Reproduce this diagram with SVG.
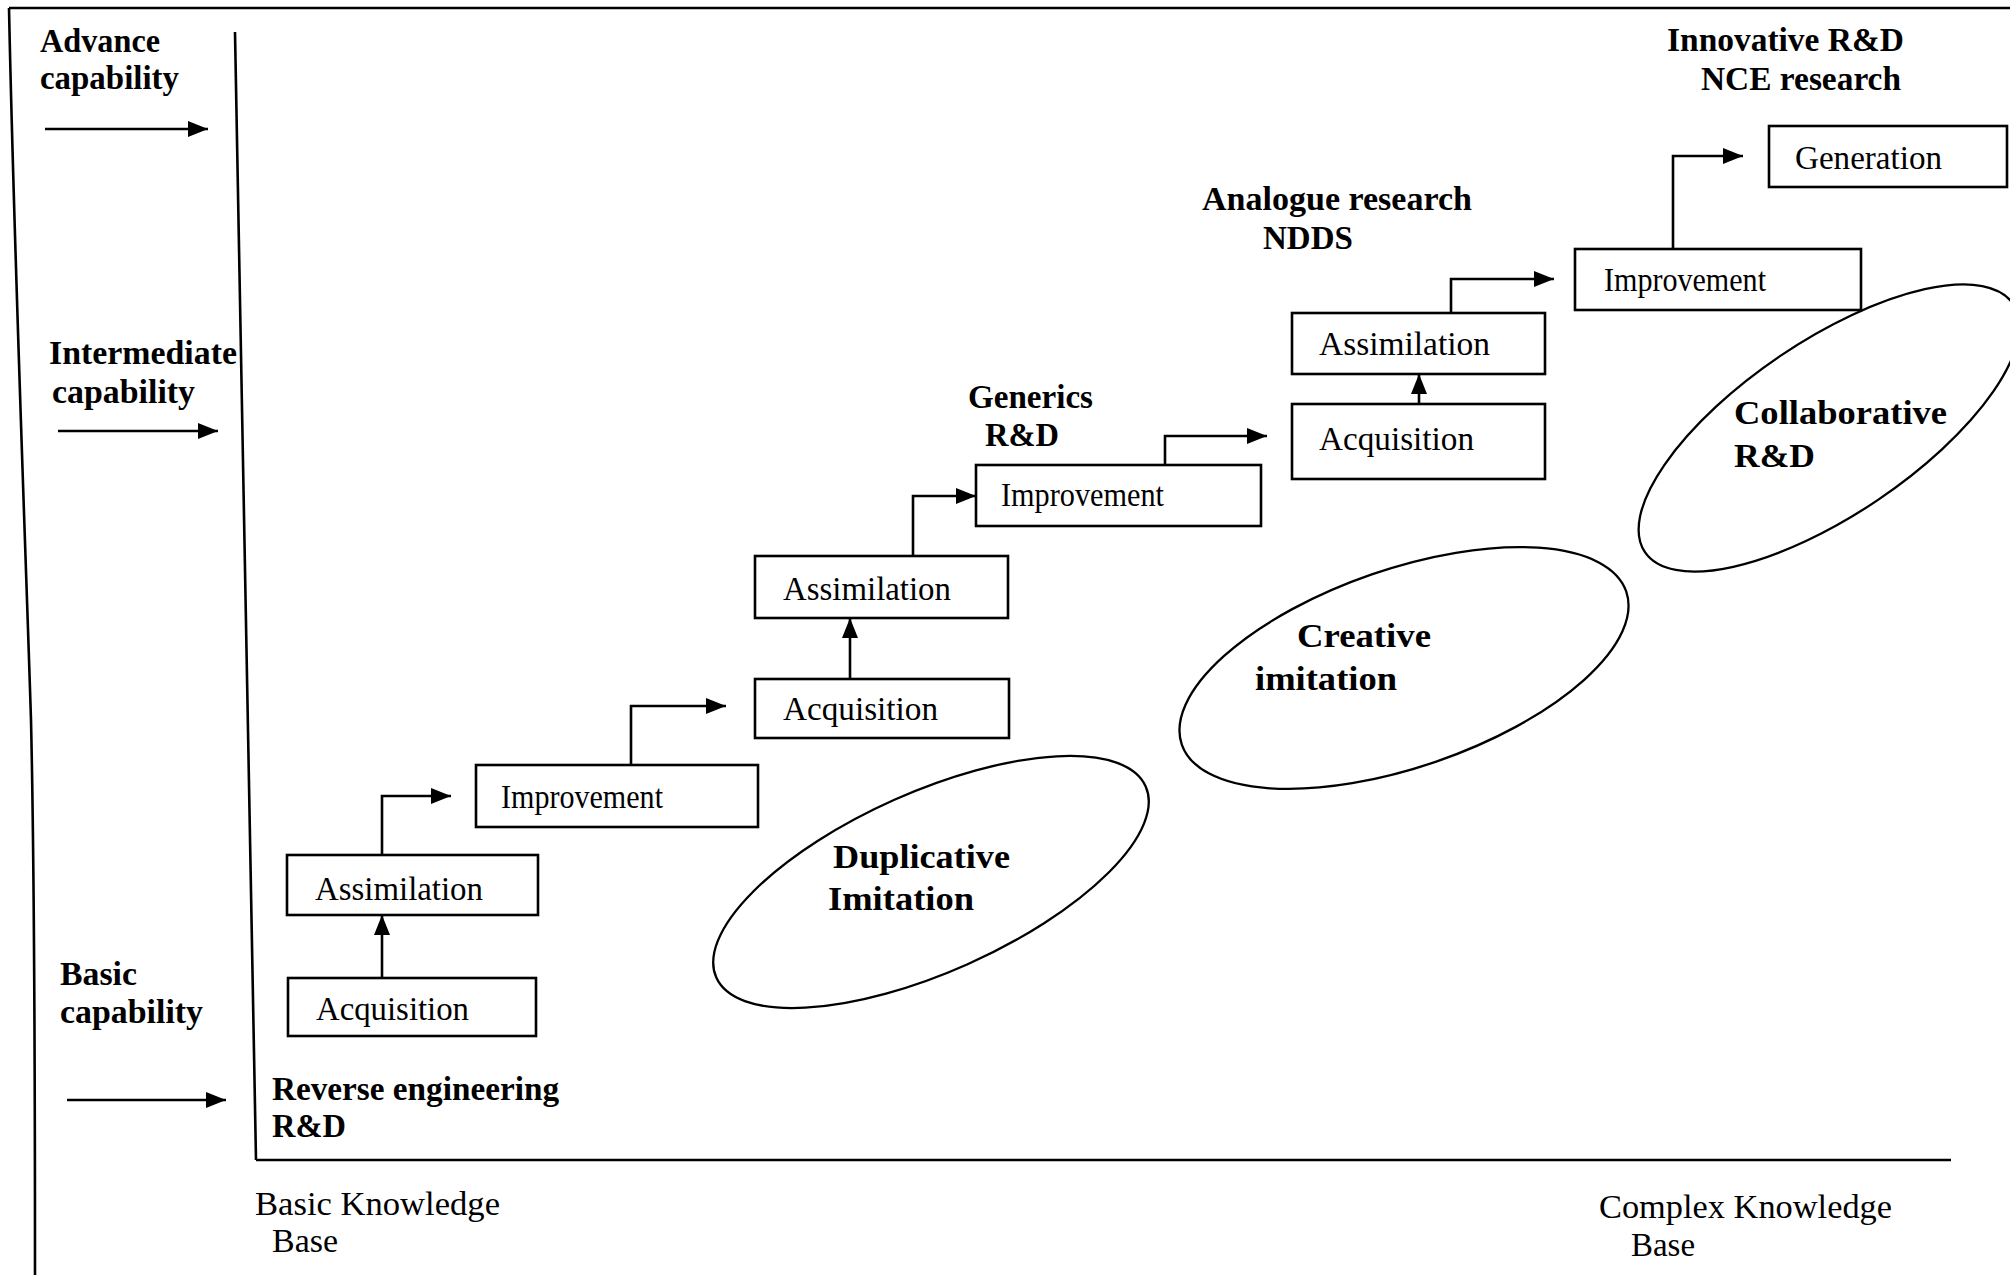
<svg xmlns="http://www.w3.org/2000/svg" width="2010" height="1275" viewBox="0 0 2010 1275">
<defs>
<marker id="ah" viewBox="0 0 20 16" refX="20" refY="8" markerWidth="20" markerHeight="16" markerUnits="userSpaceOnUse" orient="auto">
<path d="M0,0 L20,8 L0,16 z" fill="#000"/>
</marker>
<style>
.frame{fill:none;stroke:#000;stroke-width:2.6}
.box{fill:#fff;stroke:#000;stroke-width:2.6}
.conn{fill:none;stroke:#000;stroke-width:2.6;marker-end:url(#ah)}
.ell{fill:none;stroke:#000;stroke-width:2.3}
.lbl{font-family:"Liberation Serif","Times New Roman",serif;font-weight:bold;font-size:34px;fill:#000}
.txt{font-family:"Liberation Serif","Times New Roman",serif;font-size:33px;fill:#000}
</style>
</defs>
<rect width="2010" height="1275" fill="#fff"/>

<g id="frame">
<line class="frame" x1="9" y1="8" x2="2010" y2="8"/>
<path class="frame" d="M9,8 C14,250 26,560 31,720 C34,850 35,1000 35,1275"/>
<line class="frame" x1="235" y1="32" x2="256" y2="1160"/>
<line class="frame" x1="256" y1="1160" x2="1951" y2="1160"/>
</g>

<g id="axis-labels">
<text class="lbl" x="40" y="52" textLength="120" lengthAdjust="spacingAndGlyphs">Advance</text>
<text class="lbl" x="40" y="89" textLength="139" lengthAdjust="spacingAndGlyphs">capability</text>
<text class="lbl" x="49" y="364" textLength="188" lengthAdjust="spacingAndGlyphs">Intermediate</text>
<text class="lbl" x="52" y="403" textLength="143" lengthAdjust="spacingAndGlyphs">capability</text>
<text class="lbl" x="60" y="985" textLength="77" lengthAdjust="spacingAndGlyphs">Basic</text>
<text class="lbl" x="60" y="1023" textLength="143" lengthAdjust="spacingAndGlyphs">capability</text>
<text class="txt" x="255" y="1215" textLength="245" lengthAdjust="spacingAndGlyphs">Basic Knowledge</text>
<text class="txt" x="272" y="1252" textLength="66" lengthAdjust="spacingAndGlyphs">Base</text>
<text class="txt" x="1599" y="1218" textLength="293" lengthAdjust="spacingAndGlyphs">Complex Knowledge</text>
<text class="txt" x="1631" y="1256" textLength="64" lengthAdjust="spacingAndGlyphs">Base</text>
</g>

<g id="stage-labels">
<text class="lbl" x="272" y="1100" textLength="287" lengthAdjust="spacingAndGlyphs">Reverse engineering</text>
<text class="lbl" x="272" y="1137" textLength="74" lengthAdjust="spacingAndGlyphs">R&amp;D</text>
<text class="lbl" x="968" y="408" textLength="125" lengthAdjust="spacingAndGlyphs">Generics</text>
<text class="lbl" x="985" y="446" textLength="74" lengthAdjust="spacingAndGlyphs">R&amp;D</text>
<text class="lbl" x="1202" y="210" textLength="270" lengthAdjust="spacingAndGlyphs">Analogue research</text>
<text class="lbl" x="1263" y="249" textLength="90" lengthAdjust="spacingAndGlyphs">NDDS</text>
<text class="lbl" x="1667" y="51" textLength="237" lengthAdjust="spacingAndGlyphs">Innovative R&amp;D</text>
<text class="lbl" x="1701" y="90" textLength="200" lengthAdjust="spacingAndGlyphs">NCE research</text>
</g>

<g id="connectors">
<line class="conn" x1="45" y1="129" x2="208" y2="129"/>
<line class="conn" x1="58" y1="431" x2="218" y2="431"/>
<line class="conn" x1="67" y1="1100" x2="226" y2="1100"/>
<line class="conn" x1="382" y1="977" x2="382" y2="915"/>
<polyline class="conn" points="382,855 382,796 451,796"/>
<polyline class="conn" points="631,765 631,706 726,706"/>
<line class="conn" x1="850" y1="679" x2="850" y2="618"/>
<polyline class="conn" points="913,556 913,496 976,496"/>
<polyline class="conn" points="1165,465 1165,436 1267,436"/>
<line class="conn" x1="1419" y1="404" x2="1419" y2="374"/>
<polyline class="conn" points="1451,313 1451,279 1554,279"/>
<polyline class="conn" points="1673,249 1673,156 1743,156"/>
</g>

<g id="acquisition-1"><rect class="box" x="288" y="978" width="248" height="58"/><text class="txt" x="316" y="1020" textLength="153" lengthAdjust="spacingAndGlyphs">Acquisition</text></g>
<g id="assimilation-1"><rect class="box" x="287" y="855" width="251" height="60"/><text class="txt" x="315" y="900" textLength="168" lengthAdjust="spacingAndGlyphs">Assimilation</text></g>
<g id="improvement-1"><rect class="box" x="476" y="765" width="282" height="62"/><text class="txt" x="501" y="808" textLength="162" lengthAdjust="spacingAndGlyphs">Improvement</text></g>
<g id="acquisition-2"><rect class="box" x="755" y="679" width="254" height="59"/><text class="txt" x="783" y="720" textLength="155" lengthAdjust="spacingAndGlyphs">Acquisition</text></g>
<g id="assimilation-2"><rect class="box" x="755" y="556" width="253" height="62"/><text class="txt" x="783" y="600" textLength="168" lengthAdjust="spacingAndGlyphs">Assimilation</text></g>
<g id="improvement-2"><rect class="box" x="976" y="465" width="285" height="61"/><text class="txt" x="1001" y="506" textLength="163" lengthAdjust="spacingAndGlyphs">Improvement</text></g>
<g id="acquisition-3"><rect class="box" x="1292" y="404" width="253" height="75"/><text class="txt" x="1319" y="450" textLength="155" lengthAdjust="spacingAndGlyphs">Acquisition</text></g>
<g id="assimilation-3"><rect class="box" x="1292" y="313" width="253" height="61"/><text class="txt" x="1319" y="355" textLength="171" lengthAdjust="spacingAndGlyphs">Assimilation</text></g>
<g id="improvement-3"><rect class="box" x="1575" y="249" width="286" height="61"/><text class="txt" x="1604" y="291" textLength="162" lengthAdjust="spacingAndGlyphs">Improvement</text></g>
<g id="generation"><rect class="box" x="1769" y="126" width="238" height="61"/><text class="txt" x="1795" y="169" textLength="147" lengthAdjust="spacingAndGlyphs">Generation</text></g>

<g id="duplicative-imitation">
<ellipse class="ell" cx="931" cy="882" rx="235" ry="90" transform="rotate(-24 931 882)"/>
<text class="lbl" x="833" y="868" textLength="177" lengthAdjust="spacingAndGlyphs">Duplicative</text>
<text class="lbl" x="828" y="910" textLength="146" lengthAdjust="spacingAndGlyphs">Imitation</text>
</g>
<g id="creative-imitation">
<ellipse class="ell" cx="1404" cy="668" rx="235" ry="99" transform="rotate(-19 1404 668)"/>
<text class="lbl" x="1297" y="647" textLength="134" lengthAdjust="spacingAndGlyphs">Creative</text>
<text class="lbl" x="1255" y="690" textLength="142" lengthAdjust="spacingAndGlyphs">imitation</text>
</g>
<g id="collaborative-rd">
<ellipse class="ell" cx="1829" cy="428" rx="222" ry="87" transform="rotate(-34 1829 428)"/>
<text class="lbl" x="1734" y="424" textLength="213" lengthAdjust="spacingAndGlyphs">Collaborative</text>
<text class="lbl" x="1734" y="467" textLength="81" lengthAdjust="spacingAndGlyphs">R&amp;D</text>
</g>
</svg>
